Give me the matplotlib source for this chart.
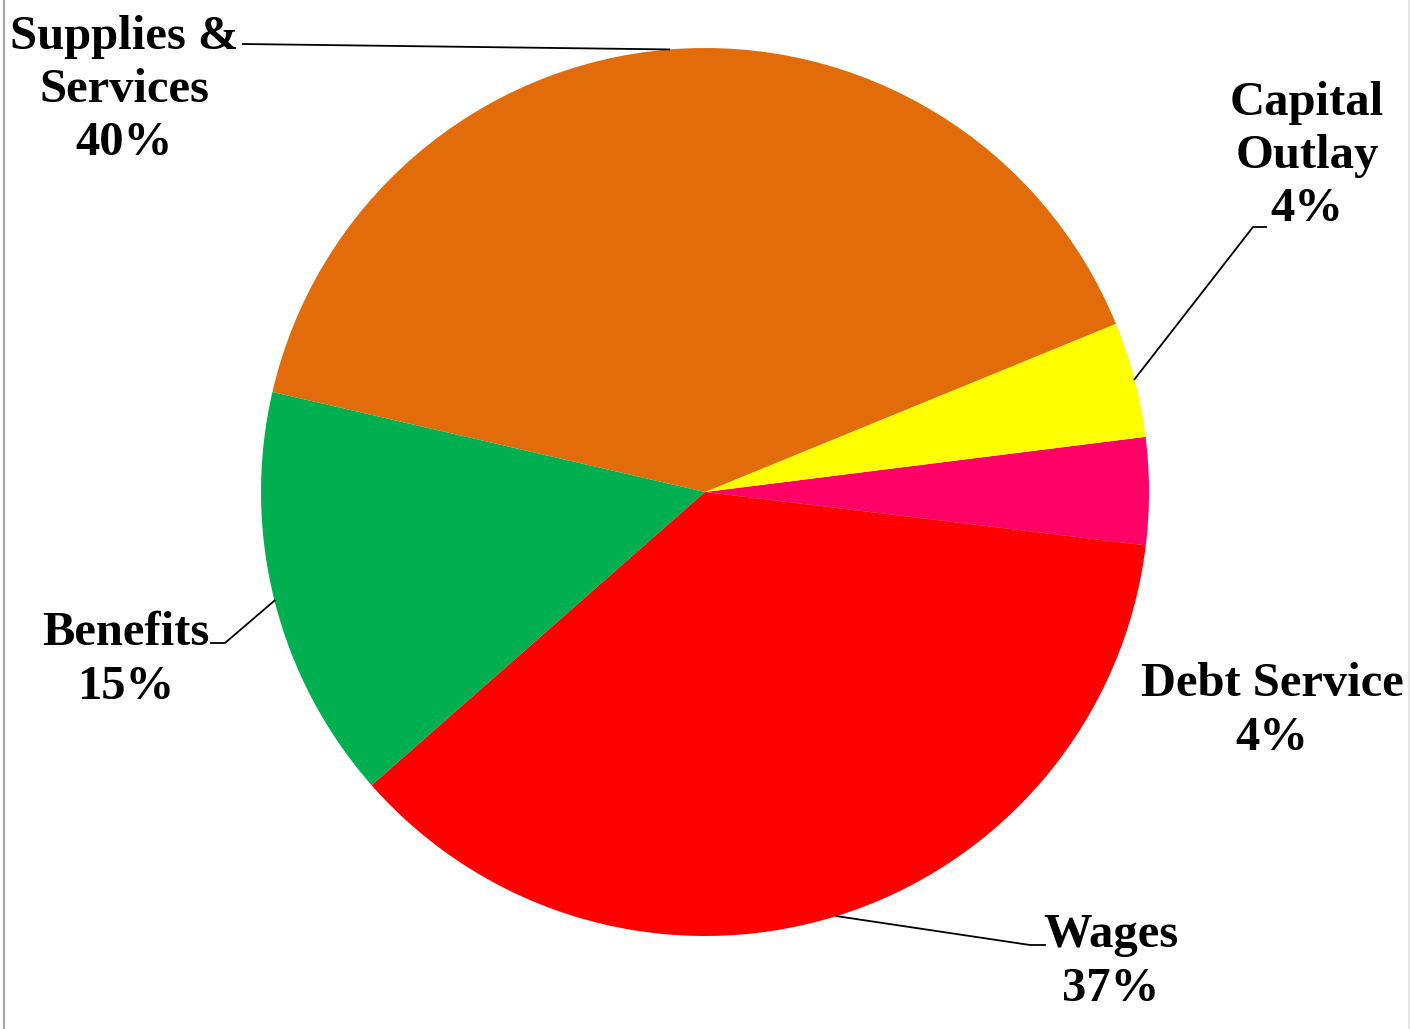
import numpy as np
import matplotlib.pyplot as plt
from matplotlib.lines import Line2D

# Données du graphique (parts du budget)
categories = ["Debt Service", "Capital\nOutlay", "Supplies &\nServices", "Benefits", "Wages"]
values = [3.9, 4.2, 40.2, 15.1, 36.6]
colors = ["#FF0066", "#FFFF00", "#E36C0A", "#00B050", "#FF0000"]

# Position des étiquettes (pixels, y vers le haut) et coude de la ligne de rappel
label_pos = [(1272, 318), (1307, 873), (124, 939), (126, 369), (1111, 67)]
elbows = [None, [(1253, 802), (1266, 802)], [(243, 985)],
          [(225, 386), (211, 386)], [(1030, 84), (1045, 84)]]

W, H = 1410, 1029
fig = plt.figure(figsize=(W / 100, H / 100), dpi=100)
ax = fig.add_axes([0, 0, 1, 1])

cx, cy, r = 705, 537, 444
wedges, _ = ax.pie(values, colors=colors, startangle=-6.9, counterclock=True,
                   center=(cx, cy), radius=r, frame=True,
                   wedgeprops=dict(linewidth=0))
ax.set_xlim(0, W)
ax.set_ylim(0, H)
ax.axis("off")

font = dict(family="Liberation Serif", weight="bold", size=35)
for w, name, v, pos, elb in zip(wedges, categories, values, label_pos, elbows):
    ax.text(pos[0], pos[1], f"{name}\n{v:.0f}%", ha="center", va="center",
            multialignment="center", linespacing=1.27, **font)
    if elb is None:
        continue
    mid = np.deg2rad((w.theta1 + w.theta2) / 2)
    pts = [(cx + r * np.cos(mid), cy + r * np.sin(mid))] + elb
    xs, ys = zip(*pts)
    ax.plot(xs, ys, color="black", linewidth=1.3)

# Bordures grises du cadre
fig.add_artist(Line2D([0.0025, 0.0025], [0, 1], color="#A6A6A6", linewidth=1.5,
                      transform=fig.transFigure))
fig.add_artist(Line2D([0.9995, 0.9995], [0, 1], color="#E6E6E6", linewidth=1.5,
                      transform=fig.transFigure))

fig.savefig("out.png", dpi=100)
